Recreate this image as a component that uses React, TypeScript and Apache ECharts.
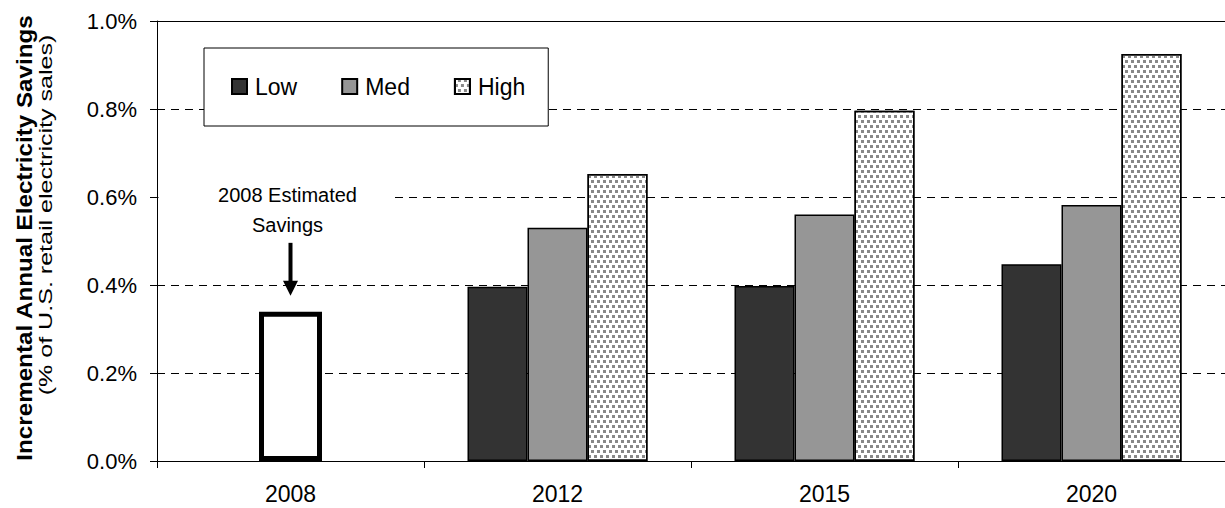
import React, { useEffect, useRef } from "react";
import * as echarts from "echarts";

const categories = ["2008", "2012", "2015", "2020"];
const lowValues = [null, 0.396, 0.398, 0.447];
const medValues = [null, 0.53, 0.56, 0.582];
const highValues = [null, 0.652, 0.796, 0.925];
const estimatedValues = [0.339, null, null, null];
const seriesNames = ["Low", "Med", "High"];
const yMin = 0;
const yMax = 1.0;
const yInterval = 0.2;
const titleMain = "Incremental Annual Electricity Savings";
const titleSub = "(% of U.S. retail electricity sales)";
const noteLines = ["2008 Estimated", "Savings"];

const FONT = "'Liberation Sans', Arial, sans-serif";

export default function App() {
  const ref = useRef<HTMLDivElement>(null);

  useEffect(() => {
    if (!ref.current) return;
    const chart = echarts.init(ref.current, null, { renderer: "svg" });
    const barBorder = { borderColor: "#000", borderWidth: 1.5 };
    chart.setOption({
      animation: false,
      backgroundColor: "#fff",
      textStyle: { fontFamily: FONT },
      grid: { left: 157, right: 0, top: 21, bottom: 47, containLabel: false },
      legend: {
        data: seriesNames,
        left: 204,
        top: 48,
        orient: "horizontal",
        itemWidth: 15,
        itemHeight: 15,
        itemGap: 44,
        icon: "rect",
        backgroundColor: "#fff",
        borderColor: "#000",
        borderWidth: 1,
        borderRadius: 0,
        padding: [27, 23, 28, 27],
        textStyle: { fontSize: 23, color: "#000", fontFamily: FONT, padding: [0, 0, 0, 3] },
      },
      xAxis: [
        {
          type: "category",
          data: categories,
          position: "bottom",
          axisLine: { show: true, lineStyle: { color: "#000", width: 1 } },
          axisTick: { show: true, length: 7, interval: 0, alignWithLabel: false, lineStyle: { color: "#000" } },
          axisLabel: { fontSize: 23, color: "#000", margin: 21, fontFamily: FONT },
          splitLine: { show: false },
        },
        {
          type: "category",
          data: categories,
          position: "top",
          axisLine: { show: true, lineStyle: { color: "#000", width: 1 } },
          axisTick: { show: false },
          axisLabel: { show: false },
          splitLine: { show: false },
        },
      ],
      yAxis: {
        type: "value",
        min: yMin,
        max: yMax,
        interval: yInterval,
        axisLine: { show: true, lineStyle: { color: "#000", width: 1 } },
        axisTick: { show: true, length: 7, lineStyle: { color: "#000" } },
        axisLabel: {
          fontSize: 22,
          color: "#000",
          margin: 20,
          fontFamily: FONT,
          formatter: (v: number) => v.toFixed(1) + "%",
        },
        splitLine: { show: true, lineStyle: { color: "#000", width: 1, type: [8, 6] } },
      },
      series: [
        {
          name: "Low",
          type: "bar",
          data: lowValues,
          barWidth: 60,
          barGap: "0%",
          itemStyle: { color: "#333333", ...barBorder },
        },
        {
          name: "Med",
          type: "bar",
          data: medValues,
          barWidth: 60,
          barGap: "0%",
          itemStyle: { color: "#969696", ...barBorder },
        },
        {
          name: "High",
          type: "bar",
          data: highValues,
          barWidth: 60,
          barGap: "0%",
          itemStyle: {
            color: "#ffffff",
            ...barBorder,
            decal: {
              symbol: "rect",
              symbolSize: 1,
              color: "#888888",
              dashArrayX: [[3, 3], [0, 3, 3, 0]],
              dashArrayY: [3, 1.5],
              rotation: 0,
            },
          },
        },
        {
          name: "2008 Estimated",
          type: "bar",
          xAxisIndex: 1,
          data: estimatedValues,
          barWidth: 63,
          itemStyle: { color: "#ffffff", borderColor: "#000", borderWidth: 5 },
        },
      ],
    });

    const p = chart.convertToPixel({ xAxisIndex: 1, yAxisIndex: 0 }, [categories[0], estimatedValues[0] as number]) as number[];
    const cx = p[0];
    const top = p[1];

    chart.setOption({
      graphic: [
        {
          type: "rect",
          z: 100,
          shape: { x: cx - 132, y: top - 134, width: 235, height: 60 },
          style: { fill: "#fff" },
        },
        {
          type: "text",
          z: 101,
          x: cx - 3,
          y: top - 117,
          style: { text: noteLines[0], fontSize: 20, fontFamily: FONT, fill: "#000", align: "center", verticalAlign: "middle" },
        },
        {
          type: "text",
          z: 101,
          x: cx - 3,
          y: top - 87,
          style: { text: noteLines[1], fontSize: 20, fontFamily: FONT, fill: "#000", align: "center", verticalAlign: "middle" },
        },
        {
          type: "line",
          z: 101,
          shape: { x1: cx, y1: top - 69, x2: cx, y2: top - 28 },
          style: { stroke: "#000", lineWidth: 4 },
        },
        {
          type: "polygon",
          z: 101,
          shape: { points: [[cx - 7.5, top - 31], [cx + 7.5, top - 31], [cx, top - 16]] },
          style: { fill: "#000" },
        },
        {
          type: "text",
          z: 101,
          x: 24,
          y: 238,
          rotation: Math.PI / 2,
          scaleX: 1.1,
          style: { text: titleMain, fontSize: 22, fontWeight: "bold", fontFamily: FONT, fill: "#000", align: "center", verticalAlign: "middle" },
        },
        {
          type: "text",
          z: 101,
          x: 46,
          y: 215,
          rotation: Math.PI / 2,
          scaleX: 1.32,
          style: { text: titleSub, fontSize: 19, fontFamily: FONT, fill: "#000", align: "center", verticalAlign: "middle" },
        },
      ],
    });

    return () => chart.dispose();
  }, []);

  return (
    <div
      ref={ref}
      style={{ position: "fixed", left: 0, top: 0, width: "1225px", height: "508px" }}
    />
  );
}
